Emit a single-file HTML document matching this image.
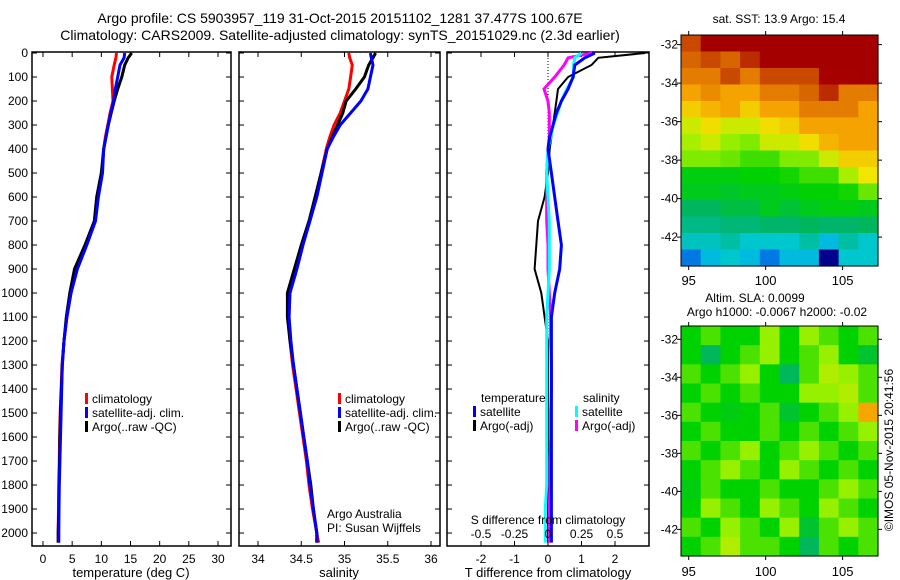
<!DOCTYPE html>
<html><head><meta charset="utf-8"><style>
html,body{margin:0;padding:0;background:#fff;}
svg{display:block;font-family:"Liberation Sans",sans-serif;}
</style></head><body>
<svg id="c" width="900" height="580" viewBox="0 0 900 580"></svg>
<script>
// ---- data ----
const depths=[0,20,50,100,150,200,250,300,350,400,500,600,700,800,900,1000,1100,1200,1300,1400,1500,1600,1700,1800,1900,2000,2040];
const tempClim=[12.6,12.5,12.2,11.8,11.9,12.0,11.5,11.1,10.7,10.4,10.1,9.4,8.9,7.4,5.8,4.8,4.1,3.6,3.25,3.1,2.95,2.85,2.8,2.7,2.65,2.6,2.6];
const tempSat=[14.0,13.9,13.2,12.8,12.4,12.1,11.6,11.2,10.8,10.4,10.2,9.5,9.0,7.5,5.9,4.8,4.1,3.6,3.3,3.2,3.1,3.0,2.9,2.8,2.75,2.7,2.7];
const tempArgo=[15.2,14.6,14.0,13.5,12.8,12.2,11.7,11.2,10.8,10.4,10.0,9.2,8.8,7.2,5.4,4.6,4.0,3.6,3.3,3.15,3.0,2.9,2.85,2.75,2.7,2.6,2.6];
const salClim=[35.05,35.06,35.09,35.07,35.05,35.0,34.95,34.88,34.83,34.79,34.73,34.67,34.6,34.51,34.44,34.36,34.35,34.37,34.4,34.44,34.48,34.52,34.56,34.59,34.63,34.68,34.7];
const salSat=[35.3,35.31,35.33,35.3,35.27,35.19,35.07,34.95,34.87,34.8,34.74,34.68,34.6,34.52,34.45,34.37,34.36,34.38,34.41,34.45,34.49,34.53,34.57,34.6,34.64,34.68,34.68];
const salArgo=[35.36,35.33,35.28,35.23,35.13,35.02,34.98,34.92,34.86,34.8,34.73,34.66,34.59,34.5,34.42,34.34,34.34,34.37,34.41,34.45,34.49,34.53,34.57,34.61,34.64,34.68,34.68];
const dTSat=[1.4,1.1,0.8,0.75,0.6,0.4,0.25,0.15,0.05,0.0,0.1,0.2,0.3,0.4,0.35,0.2,0.1,0.1,0.1,0.1,0.1,0.1,0.1,0.1,0.1,0.1,0.1];
const dTArgo=[2.9,1.5,1.3,0.6,0.3,0.25,0.2,0.15,0.1,0.05,0.0,-0.1,-0.3,-0.35,-0.4,-0.2,-0.1,0.0,0.0,0.0,0.0,0.0,0.0,0.0,0.0,0.0,0.0];
const dSSat=[0.25,0.2,0.19,0.19,0.14,0.1,0.07,0.04,0.02,0.0,-0.01,0.0,0.01,0.01,0.01,0.0,-0.01,-0.01,-0.01,-0.01,-0.01,-0.01,-0.01,-0.01,-0.02,-0.02,-0.02];
const dSArgo=[0.33,0.15,0.12,0.05,-0.03,0.0,0.01,0.01,0.01,0.0,-0.01,-0.01,-0.01,0.0,0.0,0.01,0.02,0.02,0.025,0.025,0.02,0.02,0.015,0.015,0.01,0.01,0.01];
const depthTicks=[0,100,200,300,400,500,600,700,800,900,1000,1100,1200,1300,1400,1500,1600,1700,1800,1900,2000];
const tempTicks=[0,5,10,15,20,25,30];
const salTicks=[34,34.5,35,35.5,36];
const dTTicks=[-2,-1,0,1,2];
const dSTicks=[-0.5,-0.25,0,0.25,0.5];
const latTicks=[-32,-34,-36,-38,-40,-42];
const lonTicks=[95,100,105];
const sstGrid=[
[17,17.6,17.6,17.6,17.8,18,18,18,18,18],
[16.8,17,16.8,17.2,17.6,18,18,18,18,18],
[16.5,16.5,17,16.5,17,17,17,17.5,17.5,18],
[16,16.3,16,16,16.5,16.5,16.8,17.2,16.5,16.5],
[15.5,15.8,16,15.5,16,16,16.5,16.5,16.5,16],
[15,15.3,15,15,15.3,15.5,16,16,16,16],
[14.8,15,14.7,14.6,15,15,15.3,15.8,16,16],
[14.6,14.6,14.5,14.3,14.3,14.6,14.6,15,15.5,15.5],
[13.9,13.9,13.9,14,14,14.1,14.3,14.3,14.8,15.2],
[13.8,13.8,13.7,13.8,13.8,13.9,14,14,14.1,14.5],
[13.3,13.3,13.5,13.5,13.8,13.6,13.8,13.9,13.9,13.8],
[13,13,13.1,13.1,13.2,13.2,13.3,13.2,13.2,13.3],
[12.6,12.6,12.8,12.5,12.5,12.5,12.8,12.3,12.8,12.5],
[11.8,12.3,12.5,12.3,11.8,12.3,12.3,11,12.5,12.5]];
const slaGrid=[
[0,0.05,0,0,0.1,0,0.1,0.05,0,0.05],
[0,-0.1,0,0.05,0.1,0,0.05,0.1,0,-0.05],
[0.05,0,0.05,0.1,0,-0.1,0.05,0.12,0.1,0.05],
[0,0.05,0,0.05,0,0,0.1,0.1,0.12,0.05],
[0.05,0,-0.02,0,0.05,-0.05,0,0.05,0.1,0.28],
[0,0.05,0,0,0.05,0,0.05,0,0.05,0.1],
[0.05,0,0.05,0.1,0,0.05,0.1,0.05,0,0.05],
[0,0.05,0.1,0.05,0,0.1,0.05,0,0.05,0],
[-0.02,0.05,0,0,0.05,0,0,0.05,0.1,0.05],
[0,0.1,0.05,0,0.1,0.05,0,0.1,0.05,0],
[0.05,0,0.1,0.05,0,0.1,-0.05,0.05,0.1,0.05],
[0,0.05,0.12,0.05,0.05,0,-0.1,0.05,0,0.05]];

// ---- helpers ----
const NS='http://www.w3.org/2000/svg';
const svg=document.getElementById('c');
function el(tag,attrs,parent){const e=document.createElementNS(NS,tag);for(const k in attrs)e.setAttribute(k,attrs[k]);(parent||svg).appendChild(e);return e;}
function txt(s,x,y,anchor,size,parent){const t=el('text',{x:x,y:y,'text-anchor':anchor||'start','font-size':size||12,fill:'#000'},parent);t.textContent=s;return t;}
const yD=d=>53+d*0.24;
const topY=52,botY=546;
function lin(v0,p0,v1,p1){return v=>p0+(v-v0)*(p1-p0)/(v1-v0);}

function panel(name,x0,x1,xs,ticks,fmt,showY){
  const g=el('g',{});
  
  
  el('rect',{x:x0,y:topY,width:x1-x0,height:botY-topY,fill:'none',stroke:'#000','stroke-width':1.5},g);
  ticks.forEach(t=>{const x=xs(t);
    el('line',{x1:x,x2:x,y1:botY,y2:botY-5,stroke:'#000'},g);
    el('line',{x1:x,x2:x,y1:topY,y2:topY+5,stroke:'#000'},g);
    const l=txt(fmt(t),x,563,'middle',12,g);
    
    
  });
  depthTicks.forEach(d=>{const y=yD(d);
    el('line',{x1:x0,x2:x0+5,y1:y,y2:y,stroke:'#000'},g);
    el('line',{x1:x1,x2:x1-5,y1:y,y2:y,stroke:'#000'},g);
    if(showY){const l=txt(String(d),28,y+4,'end',12,g);
      
      }
  });
  return g;
}
function line(name,vals,xs,color,w,g){
  const pts=vals.map((v,i)=>xs(v).toFixed(1)+','+yD(depths[i]).toFixed(1)).join(' ');
  const p=el('polyline',{points:pts,fill:'none',stroke:color,'stroke-width':w||3},g);
  
  
}
function legendEntry(name,x,y,color,label,g){
  const gg=el('g',{},g);
  
  
  el('rect',{x:x,y:y-10,width:3,height:11,fill:color},gg);
  txt(label,x+7,y,'start',12,gg);
}

// titles
let t1=txt('Argo profile: CS 5903957_119 31-Oct-2015 20151102_1281 37.477S 100.67E',340,23,'middle',14);

let t2=txt('Climatology: CARS2009. Satellite-adjusted climatology: synTS_20151029.nc (2.3d earlier)',340,40,'middle',14);


// panel 1 temperature
const xT=lin(0,43,30,218);
const g1=panel('temperature-panel',32,231,xT,tempTicks,String,true);
line('temp-climatology-line',tempClim,xT,'#f00',3,g1);
line('temp-argo-line',tempArgo,xT,'#000',3,g1);
line('temp-satellite-line',tempSat,xT,'#00f',3,g1);
legendEntry('legend-climatology',85,403,'#f00','climatology',g1);
legendEntry('legend-satellite',85,417,'#00f','satellite-adj. clim.',g1);
legendEntry('legend-argo',85,431,'#000','Argo(..raw -QC)',g1);
let a1=txt('temperature (deg C)',131,577,'middle',13,g1);


// panel 2 salinity
const xS=lin(34,258,36,431);
const g2=panel('salinity-panel',239,440,xS,salTicks,String,false);
line('sal-climatology-line',salClim,xS,'#f00',3,g2);
line('sal-argo-line',salArgo,xS,'#000',3,g2);
line('sal-satellite-line',salSat,xS,'#00f',3,g2);
legendEntry('legend-climatology-2',338,403,'#f00','climatology',g2);
legendEntry('legend-satellite-2',338,417,'#00f','satellite-adj. clim.',g2);
legendEntry('legend-argo-2',338,431,'#000','Argo(..raw -QC)',g2);
txt('Argo Australia',327,518,'start',12,g2);
txt('PI: Susan Wijffels',327,532,'start',12,g2);
let a2=txt('salinity',339,577,'middle',13,g2);


// panel 3 differences
const xdT=lin(0,548,2,615);
const xdS=lin(0,548,0.5,615);
const g3=panel('difference-panel',447,649,xdT,dTTicks,String,false);
el('line',{x1:xdT(0),x2:xdT(0),y1:topY,y2:botY,stroke:'#000','stroke-dasharray':'1,2'},g3);
line('dT-argo-line',dTArgo,xdT,'#000',2,g3);
line('dS-argo-line',dSArgo,xdS,'#f0f',3,g3);
line('dS-satellite-line',dSSat,xdS,'#0ff',3,g3);
line('dT-satellite-line',dTSat,xdT,'#00f',3,g3);
txt('temperature',481,402,'start',12,g3);
txt('salinity',583,402,'start',12,g3);
legendEntry('legend-t-satellite',473,416,'#00f','satellite',g3);
legendEntry('legend-t-argo',473,430,'#000','Argo(-adj)',g3);
legendEntry('legend-s-satellite',575,416,'#0ff','satellite',g3);
legendEntry('legend-s-argo',575,430,'#f0f','Argo(-adj)',g3);
txt('S difference from climatology',548,524,'middle',12,g3);
dSTicks.forEach(t=>{const l=txt(String(t),xdS(t),538,'middle',12,g3);
  });
let a3=txt('T difference from climatology',548,577,'middle',13,g3);


// maps
const cstops=[[0,0,0,140],[0.07,0,80,230],[0.2,0,200,220],[0.32,0,180,100],[0.43,0,210,0],[0.53,150,240,0],[0.6,240,230,0],[0.72,245,160,0],[0.83,215,100,0],[0.93,165,0,0],[1,165,0,0]];
function cmap(v){v=Math.max(0,Math.min(1,v));
  for(let i=1;i<cstops.length;i++){if(v<=cstops[i][0]){const a=cstops[i-1],b=cstops[i];const f=(v-a[0])/(b[0]-a[0]||1);
    return 'rgb('+[1,2,3].map(k=>Math.round(a[k]+(b[k]-a[k])*f)).join(',')+')';}}
  return 'rgb(165,0,0)';}
function map(name,y0,y1,lat0,lat1,grid,vmin,vmax,latLabelY){
  const x0=681,x1=878;
  const g=el('g',{});
  
  
  const rows=grid.length,cols=grid[0].length;
  const cw=(x1-x0)/cols,ch=(y1-y0)/rows;
  grid.forEach((row,i)=>row.forEach((v,j)=>{
    const r=el('rect',{x:(x0+j*cw).toFixed(2),y:(y0+i*ch).toFixed(2),width:(cw+0.6).toFixed(2),height:(ch+0.6).toFixed(2),fill:cmap((v-vmin)/(vmax-vmin))},g);
    
    
  }));
  el('rect',{x:x0,y:y0,width:x1-x0,height:y1-y0,fill:'none',stroke:'#000','stroke-width':1},g);
  const yl=lin(lat0,y0,lat1,y1), xl=lin(94.5,x0,107.3,x1);
  latTicks.forEach(t=>{const y=yl(t);
    el('line',{x1:x0-4,x2:x0,y1:y,y2:y,stroke:'#000'},g);
    el('line',{x1:x1,x2:x1+4,y1:y,y2:y,stroke:'#000'},g);
    txt(String(t),678,y+4,'end',12,g);});
  lonTicks.forEach(t=>{const x=xl(t);
    el('line',{x1:x,x2:x,y1:y1,y2:y1+4,stroke:'#000'},g);
    el('line',{x1:x,x2:x,y1:y0-4,y2:y0,stroke:'#000'},g);
    txt(String(t),x,latLabelY,'middle',13,g);});
}
map('sst-map',35,266,-31.5,-43.5,sstGrid,11,18,285);
map('sla-map',326,556,-31.3,-43.4,slaGrid,-0.43,0.57,576);
txt('sat. SST: 13.9 Argo: 15.4',779,23,'middle',12);
txt('Altim. SLA: 0.0099',755,302,'middle',12);
txt('Argo h1000: -0.0067 h2000: -0.02',777,316,'middle',12);
const cp=txt('©IMOS 05-Nov-2015 20:41:56',0,0,'middle',12);
cp.setAttribute('transform','translate(893,450) rotate(-90)');

</script>
</body></html>
